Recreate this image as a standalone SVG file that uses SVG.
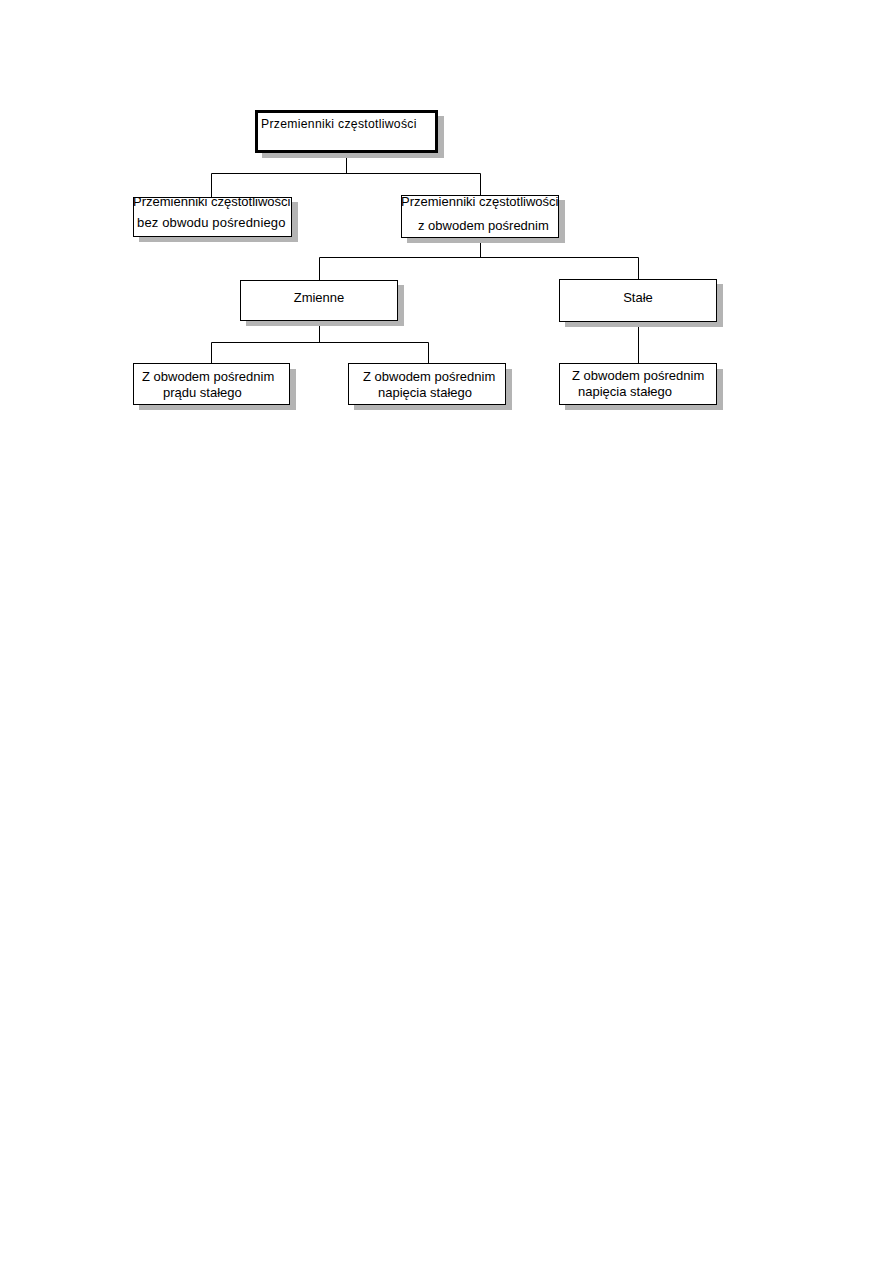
<svg xmlns="http://www.w3.org/2000/svg" width="893" height="1263" viewBox="0 0 893 1263">
<style>
.box{fill:#fff;stroke:#000;stroke-width:1}
.thick{fill:#fff;stroke:#000;stroke-width:3}
.sh{fill:#b4b4b4}
.t{font-family:"Liberation Sans",Arial,sans-serif;font-size:13px;fill:#000}
.tt{font-family:"Liberation Sans",Arial,sans-serif;font-size:12.2px;letter-spacing:0.3px;fill:#000}
.c{text-anchor:middle}
.ln{fill:none;stroke:#000;stroke-width:1}
</style>
<rect width="893" height="1263" fill="#fff"/>
<g id="connectors">
<path class="ln" d="M346.5 152 V173.5 M211.5 197 V173.5 H480.5 V195"/>
<path class="ln" d="M480.5 237 V257.5 M319.5 280 V257.5 H638.5 V279"/>
<path class="ln" d="M319.5 320 V342.5 M211.5 363 V342.5 H428.5 V363"/>
<path class="ln" d="M638.5 321 V363"/>
</g>
<g id="n1">
<rect class="sh" x="262" y="116" width="182" height="42"/>
<rect class="thick" x="256.5" y="111.5" width="180" height="40"/>
<text class="tt" x="261" y="128">Przemienniki częstotliwości</text>
</g>
<g id="n2">
<rect class="sh" x="139" y="202" width="159" height="40"/>
<rect class="box" x="133.5" y="197.5" width="158" height="39"/>
<text class="t" x="133" y="206">Przemienniki częstotliwości</text>
<text class="t" x="137" y="227" letter-spacing="0.15">bez obwodu pośredniego</text>
</g>
<g id="n3">
<rect class="sh" x="407" y="200" width="158" height="43"/>
<rect class="box" x="401.5" y="195.5" width="157" height="42"/>
<text class="t" x="401" y="206">Przemienniki częstotliwości</text>
<text class="t" x="418" y="230">z obwodem pośrednim</text>
</g>
<g id="n4">
<rect class="sh" x="246" y="285" width="158" height="41"/>
<rect class="box" x="240.5" y="280.5" width="157" height="40"/>
<text class="t c" x="319" y="302">Zmienne</text>
</g>
<g id="n5">
<rect class="sh" x="565" y="284" width="158" height="43"/>
<rect class="box" x="559.5" y="279.5" width="157" height="42"/>
<text class="t c" x="638" y="302">Stałe</text>
</g>
<g id="n6">
<rect class="sh" x="139" y="369" width="157" height="41"/>
<rect class="box" x="133.5" y="363.5" width="156" height="41"/>
<text class="t" x="142" y="381">Z obwodem pośrednim</text>
<text class="t" x="163" y="397">prądu stałego</text>
</g>
<g id="n7">
<rect class="sh" x="354" y="369" width="158" height="41"/>
<rect class="box" x="348.5" y="363.5" width="157" height="41"/>
<text class="t" x="363" y="381">Z obwodem pośrednim</text>
<text class="t" x="378" y="397">napięcia stałego</text>
</g>
<g id="n8">
<rect class="sh" x="565" y="369" width="158" height="41"/>
<rect class="box" x="559.5" y="363.5" width="157" height="41"/>
<text class="t" x="572" y="380">Z obwodem pośrednim</text>
<text class="t" x="578" y="396">napięcia stałego</text>
</g>
</svg>
